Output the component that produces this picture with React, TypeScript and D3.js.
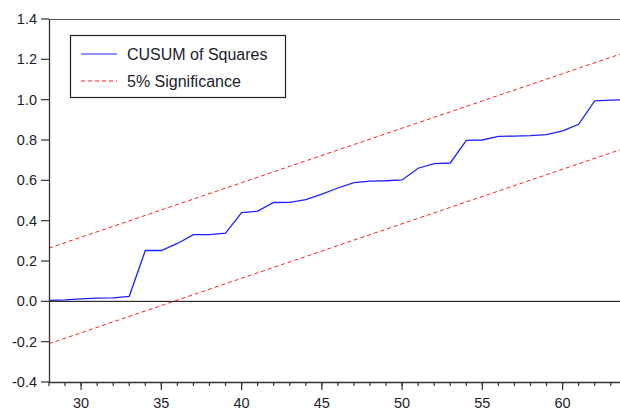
import React from "react";
import * as d3 from "d3";

const obs = [28, 29, 30, 31, 32, 33, 34, 35, 36, 37, 38, 39, 40, 41, 42, 43, 44, 45, 46, 47, 48, 49, 50, 51, 52, 53, 54, 55, 56, 57, 58, 59, 60, 61, 62, 63, 64];
const cusumSq = [0.005, 0.007, 0.012, 0.016, 0.017, 0.025, 0.252, 0.252, 0.287, 0.331, 0.331, 0.338, 0.44, 0.447, 0.49, 0.491, 0.504, 0.532, 0.562, 0.589, 0.596, 0.598, 0.602, 0.66, 0.683, 0.686, 0.798, 0.8, 0.818, 0.819, 0.822, 0.827, 0.845, 0.878, 0.994, 0.998, 1.0];
const boundObs = [28, 64];
const upperBound = [0.264, 1.237];
const lowerBound = [-0.21, 0.763];
const yTicks = [-0.4, -0.2, 0.0, 0.2, 0.4, 0.6, 0.8, 1.0, 1.2, 1.4];
const xMajorTicks = [30, 35, 40, 45, 50, 55, 60];
const xMinorTicks = d3.range(28, 65);
const legendItems = ["CUSUM of Squares", "5% Significance"];

const W = 620;
const H = 411;
const L = 49;
const T = 19;
const B = 382;

export default function App() {
  const x = d3.scaleLinear().domain([28, 64]).range([L, L + 36 * 16.05]);
  const y = d3.scaleLinear().domain([-0.4, 1.4]).range([B, T]);
  const line = d3
    .line<[number, number]>()
    .x((d) => x(d[0]))
    .y((d) => y(d[1]));
  const cusumPts = obs.map((o, i) => [o, cusumSq[i]] as [number, number]);
  const upPts = boundObs.map((o, i) => [o, upperBound[i]] as [number, number]);
  const loPts = boundObs.map((o, i) => [o, lowerBound[i]] as [number, number]);
  const font = "'Liberation Sans', Arial, sans-serif";
  const axisColor = "#333";
  const textColor = "#1c1c2c";
  return (
    <svg
      width={W}
      height={H}
      style={{ position: "absolute", left: 0, top: 0, background: "#fff" }}
      fontFamily={font}
    >
      <defs>
        <clipPath id="plot">
          <rect x={L} y={T} width={W - L} height={B - T} />
        </clipPath>
      </defs>
      {/* frame top */}
      <line x1={L} x2={W} y1={T + 0.5} y2={T + 0.5} stroke="#555" strokeWidth={1.2} />
      {/* zero line */}
      <line x1={L} x2={W} y1={y(0)} y2={y(0)} stroke="#000" strokeWidth={1} />
      <g clipPath="url(#plot)">
        <path d={line(upPts) || ""} fill="none" stroke="#ff2020" strokeWidth={1} strokeDasharray="4,3" />
        <path d={line(loPts) || ""} fill="none" stroke="#ff2020" strokeWidth={1} strokeDasharray="4,3" />
        <path d={line(cusumPts) || ""} fill="none" stroke="#2020ff" strokeWidth={1.3} />
      </g>
      {/* left axis */}
      <line x1={L + 0.5} x2={L + 0.5} y1={T} y2={B} stroke={axisColor} strokeWidth={1.3} />
      {yTicks.map((t) => (
        <g key={"y" + t}>
          <line x1={L - 8} x2={L} y1={y(t)} y2={y(t)} stroke={axisColor} strokeWidth={1.2} />
          <text x={37} y={y(t)} dy="0.35em" textAnchor="end" fontSize={14.5} fill={textColor}>
            {t.toFixed(1)}
          </text>
        </g>
      ))}
      {/* bottom axis */}
      <line x1={L} x2={W} y1={B + 0.5} y2={B + 0.5} stroke={axisColor} strokeWidth={1.3} />
      {xMinorTicks.map((t) => (
        <line key={"m" + t} x1={x(t)} x2={x(t)} y1={B} y2={B + 4} stroke={axisColor} strokeWidth={1.2} />
      ))}
      {xMajorTicks.map((t) => (
        <g key={"x" + t}>
          <line x1={x(t)} x2={x(t)} y1={B} y2={B + 8} stroke={axisColor} strokeWidth={1.2} />
          <text x={x(t)} y={408} textAnchor="middle" fontSize={14.5} fill={textColor}>
            {t}
          </text>
        </g>
      ))}
      {/* legend */}
      <rect x={70.5} y={35.5} width={215} height={62} fill="#fff" stroke="#222" strokeWidth={1.2} />
      <line x1={81} x2={117} y1={54} y2={54} stroke="#2020ff" strokeWidth={1.2} />
      <line x1={81} x2={117} y1={81} y2={81} stroke="#ff2020" strokeWidth={1} strokeDasharray="4,3" />
      <text x={127} y={60} fontSize={16} fill={textColor}>
        {legendItems[0]}
      </text>
      <text x={127} y={87} fontSize={16} fill={textColor}>
        {legendItems[1]}
      </text>
    </svg>
  );
}
